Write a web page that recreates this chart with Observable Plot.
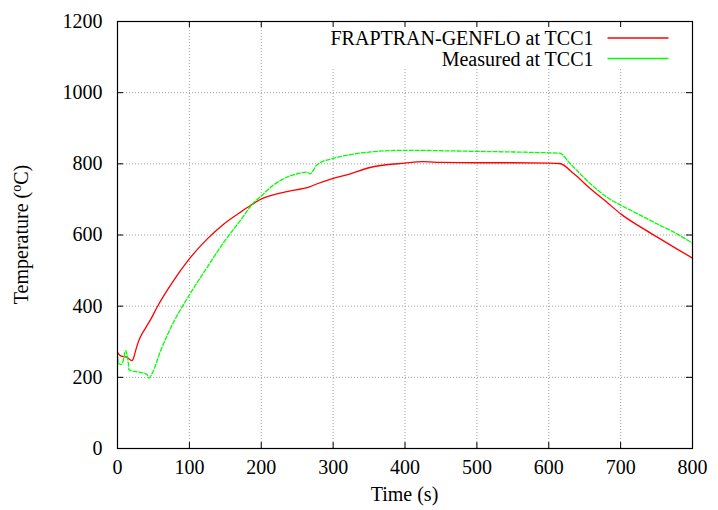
<!DOCTYPE html>
<html>
<head>
<meta charset="utf-8">
<script src="https://cdn.jsdelivr.net/npm/d3@7"></script>
<script src="https://cdn.jsdelivr.net/npm/@observablehq/plot@0.6"></script>
<style>
  html, body { margin: 0; padding: 0; background: #fff; }
  #chart svg { display: block; }
  #chart svg text, #chart svg tspan { font-family: Liberation Serif, DejaVu Serif, serif !important; }
</style>
</head>
<body>
<div id="chart"></div>
<script>
// ---- Data ----
const frapTime = [0, 3, 8, 13, 17, 20, 22, 24, 28, 32, 40, 46, 55, 78, 98, 125, 148, 171, 185, 198, 231, 268, 278, 298, 324, 350, 400, 426, 450, 500, 550, 600, 615, 635, 658, 681, 701, 728, 751, 774, 800];
const frapTemp = [270, 262, 258, 257, 250, 247, 252, 266, 294, 314, 342, 362, 397, 472, 528, 589, 631, 664, 683, 699, 720, 736, 744, 758, 772, 789, 802, 806, 804, 803, 803, 802, 801, 772, 730, 692, 658, 622, 594, 566, 535];

const measTime = [0, 2, 5, 7, 9, 11, 13, 15, 16, 20, 32, 41, 44, 48, 60, 78, 98, 125, 148, 171, 190, 198, 213, 231, 250, 264, 267.6, 278, 298, 324, 350, 398, 500, 600, 615, 630, 658, 681, 701, 728, 751, 774, 800];
const measTemp = [257, 238, 236, 240, 257, 275, 266, 240, 221, 218, 214, 208, 198, 210, 275, 355, 425, 510, 580, 641, 692, 706, 734, 758, 772, 777, 772, 798, 814, 826, 833, 838, 835, 831, 830, 800, 744, 706, 683, 655, 631, 608, 577];

const seriesNames = ["FRAPTRAN-GENFLO at TCC1", "Measured at TCC1"];
const xTicks = [0, 100, 200, 300, 400, 500, 600, 700, 800];
const yTicks = [0, 200, 400, 600, 800, 1000, 1200];
const xTitle = "Time (s)";

// ---- Build tables ----
const frap = frapTime.map((t, i) => ({t, v: frapTemp[i]}));
const meas = measTime.map((t, i) => ({t, v: measTemp[i]}));

const W = 718, H = 510;
const mL = 117, mR = 26, mT = 21, mB = 62;
const xMax = 800, yMax = 1200;
const pxX = (W - mL - mR) / xMax;   // px per second
const pxY = (H - mT - mB) / yMax;   // px per degree
const tickLen = 6;
const tY = tickLen / pxY, tX = tickLen / pxX;
const legendBottom = yMax - (68 - mT) / pxY;  // grid stops below legend box

const xGrid = xTicks.filter(d => d > 0 && d < xMax);
const yGrid = yTicks.filter(d => d > 0 && d < yMax);
const gridStyle = {stroke: "#a0a0a0", strokeDasharray: "1,2", strokeWidth: 1};

// legend positions (in plot coordinates)
const legTextX = (593 - mL) / pxX;
const legX1 = (607 - mL) / pxX, legX2 = (668 - mL) / pxX;
const legRows = seriesNames.map((name, i) => ({
  name,
  yText: yMax - ((i === 0 ? 38.4 : 59.5) - mT) / pxY,
  yLine: yMax - ((i === 0 ? 37.5 : 58) - mT) / pxY,
  color: i === 0 ? "#ff0000" : "#00ff00",
  dash: i === 0 ? null : "4,2"
}));

const FONT = "Liberation Serif, DejaVu Serif, serif";

const chart = Plot.plot({
  width: W, height: H,
  marginLeft: mL, marginRight: mR, marginTop: mT, marginBottom: mB,
  style: {fontSize: "20px", color: "#000", background: "#fff"},
  x: {domain: [0, xMax]},
  y: {domain: [0, yMax]},
  marks: [
    // grid
    Plot.ruleX(xGrid, {x: d => d, y1: 0, y2: d => d <= 200 ? yMax : legendBottom, ...gridStyle}),
    Plot.ruleY(yGrid, {y: d => d, x1: 0, x2: xMax, ...gridStyle}),
    // inward ticks on all sides
    Plot.ruleX(xTicks, {x: d => d, y1: 0, y2: tY, stroke: "#000"}),
    Plot.ruleX(xTicks, {x: d => d, y1: yMax, y2: yMax - tY, stroke: "#000"}),
    Plot.ruleY(yTicks, {y: d => d, x1: 0, x2: tX, stroke: "#000"}),
    Plot.ruleY(yTicks, {y: d => d, x1: xMax, x2: xMax - tX, stroke: "#000"}),
    // axes labels
    Plot.axisX({ticks: xTicks, tickSize: 0, tickPadding: 11, label: null, tickFormat: d => String(d), fontSize: 20, fontFamily: FONT}),
    Plot.axisY({ticks: yTicks, tickSize: 0, tickPadding: 15, label: null, tickFormat: d => String(d), fontSize: 20, fontFamily: FONT}),
    // data
    Plot.line(frap, {x: "t", y: "v", stroke: "#ff0000", strokeWidth: 1.3, curve: "monotone-x"}),
    Plot.line(meas, {x: "t", y: "v", stroke: "#00ff00", strokeWidth: 1.3, strokeDasharray: "4,2", curve: "monotone-x"}),
    // legend
    Plot.text(legRows, {x: legTextX, y: "yText", text: "name", textAnchor: "end", fill: "#000", fontSize: 20, fontFamily: FONT}),
    Plot.link(legRows, {x1: legX1, x2: legX2, y1: "yLine", y2: "yLine", stroke: "color", strokeWidth: 1.3, strokeDasharray: "dash"}),
    Plot.frame({stroke: "#000", strokeWidth: 1.2})
  ]
});

chart.setAttribute("font-family", FONT);
const svg = d3.select(chart);
// y-axis title with superscript
const yt = svg.append("text")
  .attr("transform", `translate(28,${mT + (H - mT - mB) / 2}) rotate(-90)`)
  .attr("text-anchor", "middle")
  .attr("fill", "#000")
  .attr("font-family", FONT)
  .style("font-size", "20px");
yt.append("tspan").text("Temperature (");
yt.append("tspan").attr("dy", -7).style("font-size", "14px").text("o");
yt.append("tspan").attr("dy", 7).text("C)");
// x-axis title
svg.append("text")
  .attr("x", mL + (W - mL - mR) / 2)
  .attr("y", 501)
  .attr("text-anchor", "middle")
  .attr("fill", "#000")
  .attr("font-family", FONT)
  .style("font-size", "20px")
  .text(xTitle);

document.getElementById("chart").appendChild(chart);
</script>
</body>
</html>
